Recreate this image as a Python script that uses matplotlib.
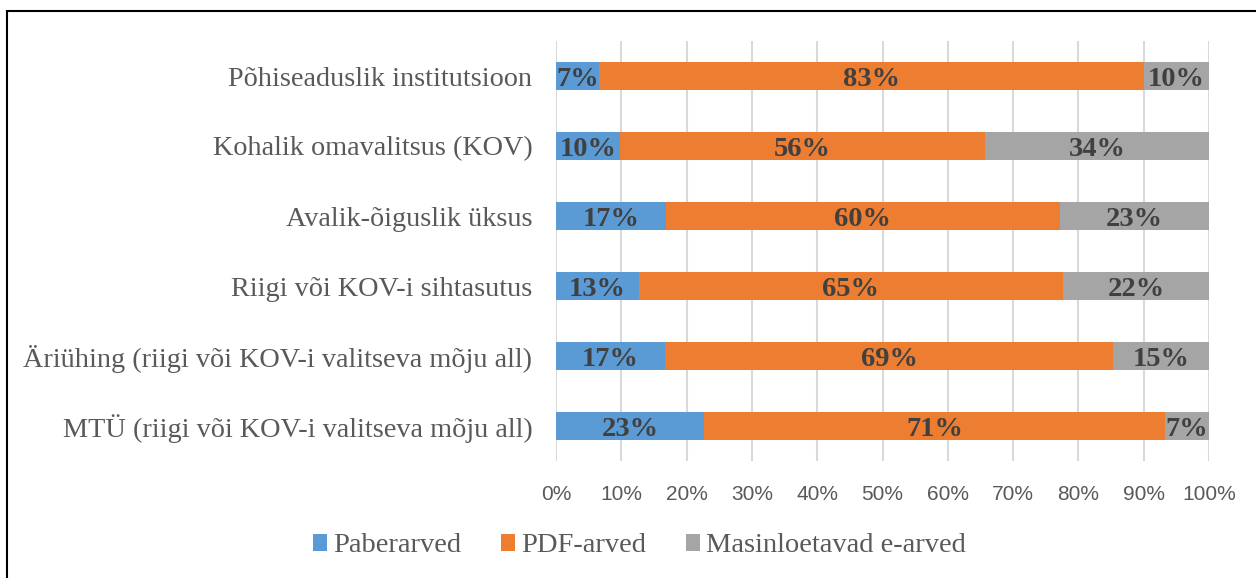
import matplotlib.pyplot as plt
from matplotlib.patches import Rectangle
import numpy as np

categories = ["Põhiseaduslik institutsioon", "Kohalik omavalitsus (KOV)",
              "Avalik-õiguslik üksus", "Riigi või KOV-i sihtasutus",
              "Äriühing (riigi või KOV-i valitseva mõju all)",
              "MTÜ (riigi või KOV-i valitseva mõju all)"]
paber = [6.6, 9.8, 16.8, 12.7, 16.7, 22.7]
pdf = [83.4, 55.9, 60.4, 64.9, 68.6, 70.6]
masin = [10.0, 34.3, 22.8, 22.4, 14.7, 6.7]
series_names = ["Paberarved", "PDF-arved", "Masinloetavad e-arved"]
colors = ["#5B9BD5", "#ED7D31", "#A5A5A5"]

fig = plt.figure(figsize=(12.56, 5.78), dpi=100)
ax = fig.add_axes([556/1256, 1 - 461/578, 653/1256, 420/578])

y = np.arange(len(categories))[::-1]
left = np.zeros(len(categories))
for vals, name, c in zip([paber, pdf, masin], series_names, colors):
    vals = np.array(vals)
    ax.barh(y, vals, left=left, height=0.4, color=c, label=name, zorder=2)
    for yi, l, v in zip(y, left, vals):
        ax.text(l + v / 2, yi, "%d%%" % round(v), ha="center", va="center_baseline",
                fontsize=20.5, fontweight="bold", family="Liberation Serif",
                color="#404040", zorder=3)
    left = left + vals

ax.set_xlim(0, 100)
ax.set_ylim(-0.5, 5.5)
ax.set_xticks(np.arange(0, 101, 10))
ax.set_xticklabels(["%d%%" % t for t in range(0, 101, 10)], family="Liberation Sans",
                   fontsize=15, color="#595959")
ax.set_yticks(y)
ax.set_yticklabels(categories, family="Liberation Serif", fontsize=20.3, color="#595959")
ax.tick_params(length=0, pad=17, axis="y")
ax.tick_params(length=0, pad=17, axis="x")
ax.xaxis.grid(True, color="#D9D9D9", linewidth=1.5, zorder=0)
ax.set_axisbelow(True)
for s in ax.spines.values():
    s.set_visible(False)

leg = fig.legend(loc="center", bbox_to_anchor=(0.509, 1 - 546/578), ncol=3, frameon=False,
                 prop={"family": "Liberation Serif", "size": 20.5}, handlelength=0.5,
                 handleheight=0.5, handletextpad=0.2, columnspacing=1.4)
for t in leg.get_texts():
    t.set_color("#595959")

fig.patches.append(Rectangle((7/1256, -0.05), 1.2, 1 - 11/578 + 0.05, transform=fig.transFigure,
                             fill=False, edgecolor="black", linewidth=1.5))
fig.savefig("out.png", dpi=100)
